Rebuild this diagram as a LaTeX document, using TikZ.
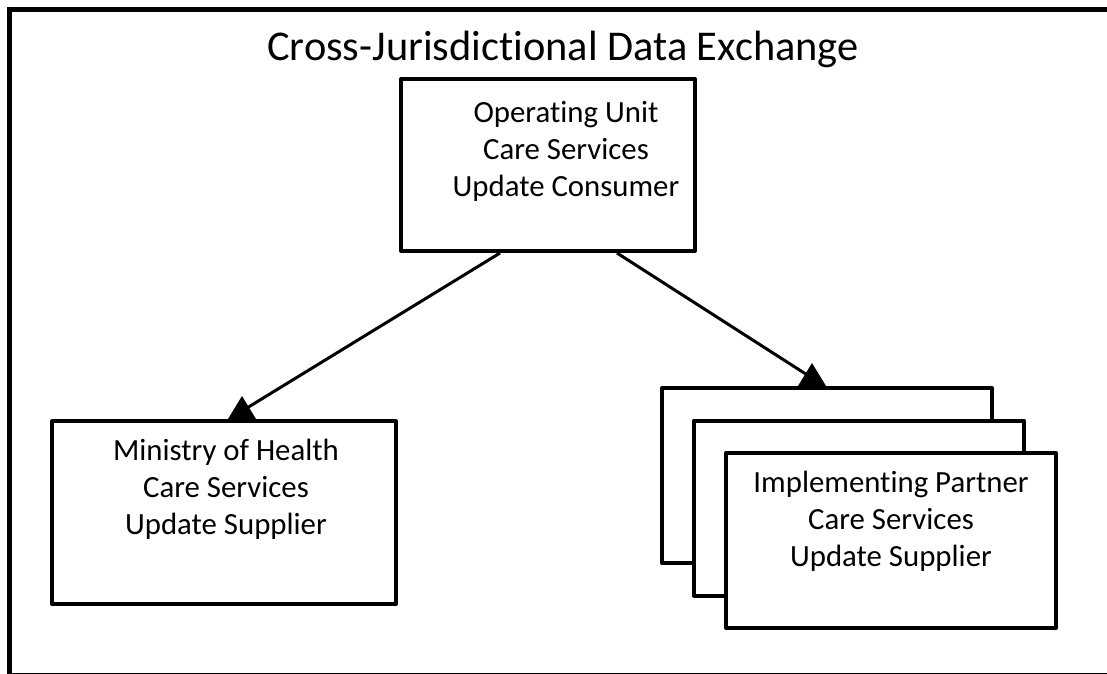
\documentclass[tikz,border=0pt]{standalone}
\usepackage{fontspec}
\setmainfont{Carlito}[RawFeature={-liga;-clig;-calt}]
\usetikzlibrary{positioning}

\tikzset{
  unitbox/.style={draw, line width=4pt, line join=round, fill=white, inner sep=0pt},
  boxtext/.style={align=center, inner sep=0pt, anchor=north,
    font=\fontsize{30.8}{37}\selectfont},
  link/.style={line width=3pt},
}

\begin{document}
\begin{tikzpicture}[x=1pt, y=-1pt]
  \clip (0,0) rectangle (1107,673);
  \fill[white] (0,0) rectangle (1107,673);
  % outer frame, cut off on the right and at the bottom
  \draw[line width=5pt] (1150,9.5) -- (9.5,9.5) -- (9.5,675) -- (1150,675);

  \node[anchor=base, inner sep=0pt, font=\fontsize{42.4}{50}\selectfont] (title) at (563,60)
    {Cross-Jurisdictional Data Exchange};

  % consumer on top
  \node[unitbox, minimum width=294pt, minimum height=172pt] (oubox) at (548,165) {};
  \node[boxtext] (outext) at (566,101) {Operating Unit\\Care Services\\Update Consumer};

  % the two suppliers
  \node[unitbox, minimum width=344pt, minimum height=183pt] (mohbox) at (224,512.5) {};
  \node[boxtext] (mohtext) at (226,439) {Ministry of Health\\Care Services\\Update Supplier};

  \foreach \i in {0, 1, 2} {
      \node[unitbox, minimum width=330pt, minimum height=175pt] (ipbox\i) at (827+32*\i, 475.5+32.5*\i) {};
    }
  \node[boxtext] (iptext) at (891,471) {Implementing Partner\\Care Services\\Update Supplier};

  % links with their markers
  \coordinate (mohmark) at (242,411);
  \coordinate (ipmark) at (812,378);
  \draw[link] ([xshift=-48pt]oubox.south) -- (mohmark);
  \draw[link] ([xshift=69pt]oubox.south) -- (ipmark);
  \foreach \m in {mohmark, ipmark} {
      \fill (\m) ++(0,-15) -- ++(14,23) -- ++(-28,0) -- cycle;
    }
\end{tikzpicture}
\end{document}
